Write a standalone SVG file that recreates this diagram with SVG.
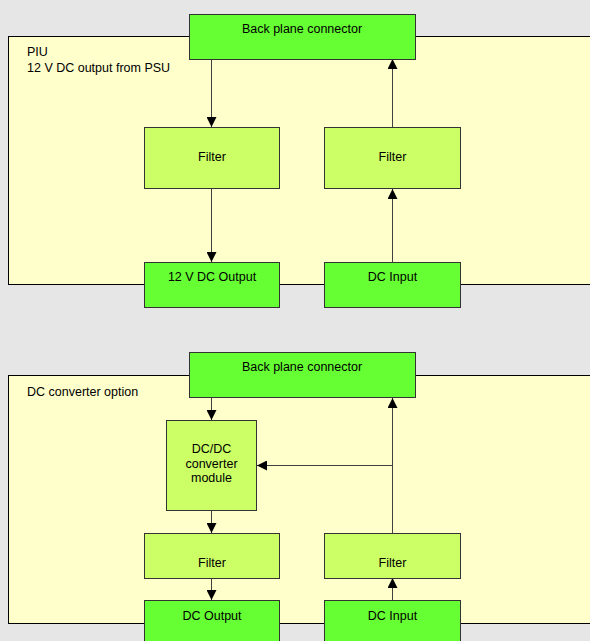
<svg xmlns="http://www.w3.org/2000/svg" width="590" height="641" viewBox="0 0 590 641">
<style>
.t{font-family:"Liberation Sans",Arial,sans-serif;font-size:12.5px;fill:#000}
.m{text-anchor:middle}
.cont{fill:#ffffcc;stroke:#000;stroke-width:1}
.g{fill:#66ff33;stroke:#333;stroke-width:1}
.l{fill:#ccff66;stroke:#333;stroke-width:1}
.c{fill:none;stroke:#404040;stroke-width:1}
</style>
<defs>
<marker id="a" markerWidth="10" markerHeight="10" refX="10" refY="5" orient="auto" markerUnits="userSpaceOnUse">
<path d="M0,0 L10,5 L0,10 Z" fill="#000"/>
</marker>
</defs>
<rect x="0" y="0" width="590" height="641" fill="#e6e6e6"/>
<g id="piu">
<rect class="cont" x="8.5" y="36.5" width="590" height="248"/>
<text class="t" x="27" y="56">PIU</text>
<text class="t" x="27" y="72">12 V DC output from PSU</text>
</g>
<g id="dcopt">
<rect class="cont" x="8.5" y="375.5" width="590" height="248"/>
<text class="t" x="27" y="396">DC converter option</text>
</g>
<g id="connectors">
<line class="c" x1="211.5" y1="59" x2="211.5" y2="127" marker-end="url(#a)"/>
<line class="c" x1="392.5" y1="127" x2="392.5" y2="59" marker-end="url(#a)"/>
<line class="c" x1="211.5" y1="189" x2="211.5" y2="262" marker-end="url(#a)"/>
<line class="c" x1="392.5" y1="262" x2="392.5" y2="189" marker-end="url(#a)"/>
<line class="c" x1="211.5" y1="398" x2="211.5" y2="420" marker-end="url(#a)"/>
<line class="c" x1="392.5" y1="533" x2="392.5" y2="398" marker-end="url(#a)"/>
<line class="c" x1="392.5" y1="465.5" x2="257" y2="465.5" marker-end="url(#a)"/>
<line class="c" x1="211.5" y1="510" x2="211.5" y2="533" marker-end="url(#a)"/>
<line class="c" x1="211.5" y1="578" x2="211.5" y2="600" marker-end="url(#a)"/>
<line class="c" x1="392.5" y1="600" x2="392.5" y2="578" marker-end="url(#a)"/>
</g>
<g id="bp1">
<rect class="g" x="189.5" y="14.5" width="226" height="45"/>
<text class="t m" x="302" y="33">Back plane connector</text>
</g>
<g id="filter1l">
<rect class="l" x="144.5" y="127.5" width="135" height="61"/>
<text class="t m" x="212" y="161">Filter</text>
</g>
<g id="filter1r">
<rect class="l" x="324.5" y="127.5" width="136" height="61"/>
<text class="t m" x="392.5" y="161">Filter</text>
</g>
<g id="out1">
<rect class="g" x="144.5" y="262.5" width="135" height="45"/>
<text class="t m" x="212" y="281">12 V DC Output</text>
</g>
<g id="in1">
<rect class="g" x="324.5" y="262.5" width="136" height="45"/>
<text class="t m" x="392.5" y="281">DC Input</text>
</g>
<g id="bp2">
<rect class="g" x="189.5" y="352.5" width="226" height="45"/>
<text class="t m" x="302" y="371">Back plane connector</text>
</g>
<g id="dcdc">
<rect class="l" x="166.5" y="420.5" width="90" height="90"/>
<text class="t m" x="211.5" y="453">DC/DC</text>
<text class="t m" x="211.5" y="468">converter</text>
<text class="t m" x="211.5" y="482">module</text>
</g>
<g id="filter2l">
<rect class="l" x="144.5" y="533.5" width="135" height="45"/>
<text class="t m" x="212" y="567">Filter</text>
</g>
<g id="filter2r">
<rect class="l" x="324.5" y="533.5" width="136" height="45"/>
<text class="t m" x="392.5" y="567">Filter</text>
</g>
<g id="out2">
<rect class="g" x="144.5" y="600.5" width="135" height="45"/>
<text class="t m" x="212" y="620">DC Output</text>
</g>
<g id="in2">
<rect class="g" x="324.5" y="600.5" width="136" height="45"/>
<text class="t m" x="392.5" y="620">DC Input</text>
</g>
</svg>
